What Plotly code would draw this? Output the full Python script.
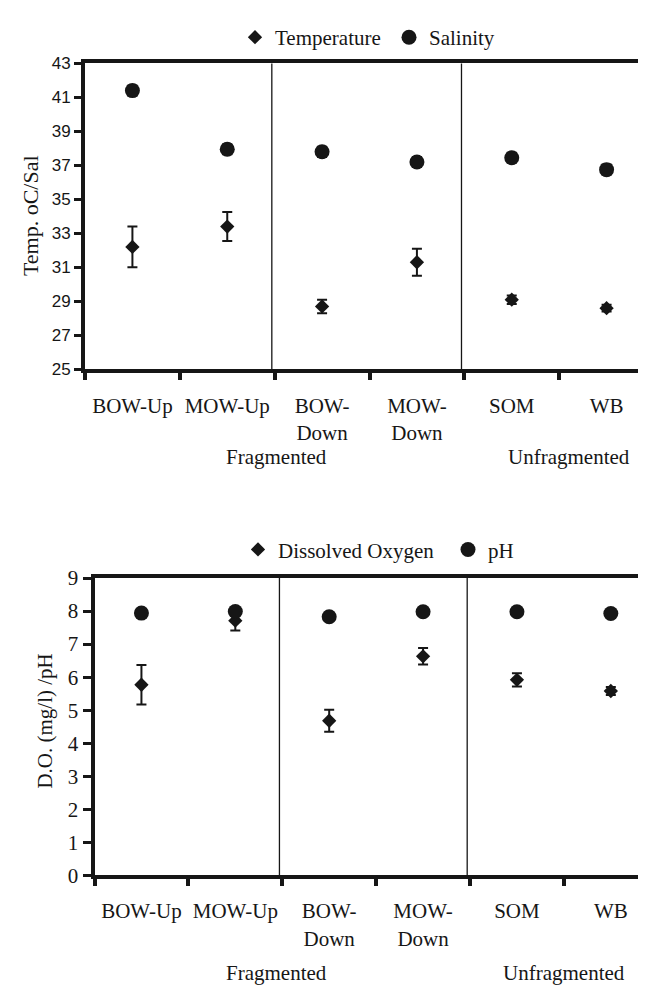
import plotly.graph_objects as go

# ---------------- data ----------------
sites = ["BOW-Up", "MOW-Up", "BOW-Down", "MOW-Down", "SOM", "WB"]
site_labels = ["BOW-Up", "MOW-Up", "BOW-<br>Down", "MOW-<br>Down", "SOM", "WB"]

temperature = [32.2, 33.4, 28.7, 31.3, 29.1, 28.6]
temperature_err = [1.2, 0.85, 0.4, 0.8, 0.25, 0.2]
salinity = [41.4, 37.95, 37.8, 37.2, 37.45, 36.75]
salinity_err = [0.3, 0.3, 0.3, 0.3, 0.3, 0.3]

dissolved_oxygen = [5.77, 7.71, 4.68, 6.63, 5.92, 5.58]
dissolved_oxygen_err = [0.6, 0.3, 0.33, 0.25, 0.2, 0.12]
ph = [7.94, 7.99, 7.83, 7.98, 7.98, 7.93]
ph_err = [0.08, 0.08, 0.08, 0.08, 0.08, 0.08]

temp_ticks = list(range(25, 44, 2))
do_ticks = list(range(0, 10))

# ---------------- figure ----------------
W, H = 646, 989
INK = "#161616"
SERIF = "Liberation Serif"
SANS = "Liberation Sans"
FS = 21


def px_x(p):
    return p / W


def px_y(p):
    return 1 - p / H


fig = go.Figure()

fig.add_trace(go.Scatter(
    x=sites, y=temperature, name="Temperature", mode="markers", legendwidth=109,
    marker=dict(symbol="diamond", size=11, color=INK),
    error_y=dict(type="data", array=temperature_err, color=INK, thickness=2, width=5),
    xaxis="x", yaxis="y", legend="legend"))
fig.add_trace(go.Scatter(
    x=sites, y=salinity, name="Salinity", mode="markers",
    marker=dict(symbol="circle", size=15, color=INK),
    error_y=dict(type="data", array=salinity_err, color=INK, thickness=2, width=5),
    xaxis="x", yaxis="y", legend="legend"))

fig.add_trace(go.Scatter(
    x=sites, y=dissolved_oxygen, name="Dissolved Oxygen", mode="markers", legendwidth=165,
    marker=dict(symbol="diamond", size=11, color=INK),
    error_y=dict(type="data", array=dissolved_oxygen_err, color=INK, thickness=2, width=5),
    xaxis="x2", yaxis="y2", legend="legend2"))
fig.add_trace(go.Scatter(
    x=sites, y=ph, name="pH", mode="markers",
    marker=dict(symbol="circle", size=15, color=INK),
    error_y=dict(type="data", array=ph_err, color=INK, thickness=2, width=5),
    xaxis="x2", yaxis="y2", legend="legend2"))

xcommon = dict(
    type="category", categoryorder="array", categoryarray=sites,
    tickmode="array", tickvals=sites, ticktext=site_labels, tickangle=0,
    tickson="boundaries", ticks="outside", ticklen=7, tickwidth=4, tickcolor=INK,
    showline=True, linewidth=4, linecolor=INK, mirror=True,
    showgrid=False, zeroline=False,
    tickfont=dict(family=SERIF, size=FS, color=INK),
    ticklabelstandoff=14,
)

fig.update_layout(
    width=W, height=H,
    margin=dict(l=0, r=0, t=0, b=0),
    paper_bgcolor="white", plot_bgcolor="white",
    showlegend=True,
    xaxis=dict(xcommon, domain=[px_x(77), 1], range=[-0.5, 5.5], anchor="y"),
    yaxis=dict(
        domain=[px_y(358), px_y(44.5)], range=[25, 43], anchor="x",
        tickmode="array", tickvals=temp_ticks,
        ticks="outside", ticklen=7, tickwidth=3, tickcolor=INK,
        showline=True, linewidth=4, linecolor=INK,
        showgrid=False, zeroline=False,
        tickfont=dict(family=SANS, size=17, color=INK)),
    xaxis2=dict(xcommon, domain=[px_x(86.5), 1], range=[-0.5, 5.46], anchor="y2"),
    yaxis2=dict(
        domain=[px_y(876.5), px_y(572)], range=[0, 9], anchor="x2",
        tickmode="array", tickvals=do_ticks,
        ticks="outside", ticklen=8, tickwidth=3, tickcolor=INK,
        showline=True, linewidth=4, linecolor=INK,
        showgrid=False, zeroline=False,
        tickfont=dict(family=SERIF, size=FS, color=INK)),
    legend=dict(orientation="h", x=px_x(227), xanchor="left", y=px_y(18), yanchor="middle",
                font=dict(family=SERIF, size=FS, color=INK), bgcolor="rgba(0,0,0,0)",
                borderwidth=0, itemclick=False),
    legend2=dict(orientation="h", x=px_x(230), xanchor="left", y=px_y(543), yanchor="middle",
                 font=dict(family=SERIF, size=FS, color=INK), bgcolor="rgba(0,0,0,0)",
                 borderwidth=0, itemclick=False),
)

# vertical separators between site groups (drawn just left of the category boundary)
for xr, yr in (("x", "y domain"), ("x2", "y2 domain")):
    for b in (1.47, 3.47):
        fig.add_shape(type="line", xref=xr, yref=yr, x0=b, x1=b, y0=0, y1=1,
                      line=dict(color=INK, width=1.3))

ann = []
# group labels
for txt, xp, yp in (("Fragmented", 268, 448), ("Unfragmented", 561, 448),
                    ("Fragmented", 268, 977), ("Unfragmented", 556, 977)):
    ann.append(dict(text=txt, x=px_x(xp), y=px_y(yp), xref="paper", yref="paper",
                    xanchor="center", yanchor="middle", showarrow=False,
                    font=dict(family=SERIF, size=FS, color=INK)))
# axis titles
ann.append(dict(text="Temp. oC/Sal", x=px_x(22), y=px_y(201), xref="paper", yref="paper",
                textangle=-90, xanchor="center", yanchor="middle", showarrow=False,
                font=dict(family=SERIF, size=22, color=INK)))
ann.append(dict(text="D.O. (mg/l) /pH", x=px_x(37), y=px_y(719), xref="paper", yref="paper",
                textangle=-90, xanchor="center", yanchor="middle", showarrow=False,
                font=dict(family=SERIF, size=21, color=INK)))
fig.update_layout(annotations=ann)

fig.write_html("out.html")
